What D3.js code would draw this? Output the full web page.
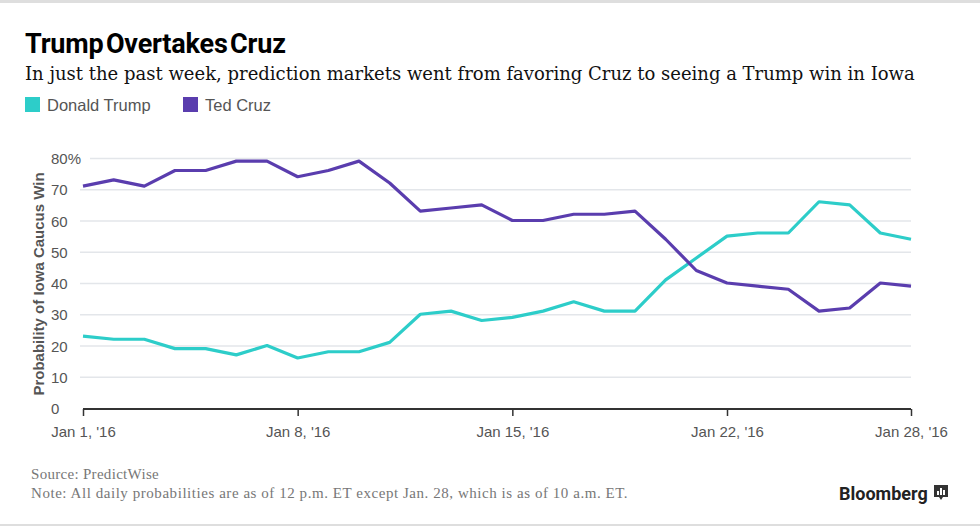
<!DOCTYPE html>
<html>
<head>
<meta charset="utf-8">
<script src="https://cdn.jsdelivr.net/npm/d3@7"></script>
<style>
  body { margin: 0; background: #fff; }
  text { font-family: "Liberation Sans", Arial, sans-serif; }
</style>
</head>
<body>
<script>
var svg; // svg canvas
var vizG; // plot group
var svgWidth = 980;
var svgHeight = 528;
var plot = {left: 83, right: 911, top: 158, bottom: 408};

// data
var days = d3.range(1, 29); // Jan 1 .. Jan 28, 2016
var trumpValues = [23, 22, 22, 19, 19, 17, 20, 16, 18, 18, 21, 30, 31, 28,
                   29, 31, 34, 31, 31, 41, 48, 55, 56, 56, 66, 65, 56, 54];
var cruzValues = [71, 73, 71, 76, 76, 79, 79, 74, 76, 79, 72, 63, 64, 65,
                  60, 60, 62, 62, 63, 54, 44, 40, 39, 38, 31, 32, 40, 39];
var seriesNames = ["Donald Trump", "Ted Cruz"];
var seriesColors = ["#2dcdc9", "#5a3dae"];
var yTicks = [0, 10, 20, 30, 40, 50, 60, 70, 80];
var xTickDays = [1, 8, 15, 22, 28];

var x = d3.scaleTime()
	.domain([new Date(2016, 0, 1), new Date(2016, 0, 28)])
	.range([plot.left, plot.right]);
var y = d3.scaleLinear()
	.domain([0, 80])
	.range([plot.bottom, plot.top]);

iniSvg(svgWidth, svgHeight);

// frame lines top/bottom
svg.append("rect").attr("x", 0).attr("y", 0).attr("width", svgWidth).attr("height", 3).attr("fill", "#dedede");
svg.append("rect").attr("x", 0).attr("y", 524).attr("width", svgWidth).attr("height", 2).attr("fill", "#dedede");

// title + subtitle
svg.append("text")
	.attr("x", 25).attr("y", 53)
	.style("font-family", "Roboto, 'Liberation Sans', sans-serif")
	.style("font-weight", "bold")
	.style("font-size", "27px")
	.style("letter-spacing", "-0.2px")
	.style("word-spacing", "-4px")
	.attr("fill", "#000")
	.text("Trump Overtakes Cruz");
svg.append("text")
	.attr("x", 25).attr("y", 80)
	.style("font-family", "'DejaVu Serif', serif")
	.style("font-size", "18px")
	.attr("fill", "#111")
	.text("In just the past week, prediction markets went from favoring Cruz to seeing a Trump win in Iowa");

// legend
var legend = svg.append("g").attr("transform", "translate(25,97)");
var legendItems = legend.selectAll("g")
	.data(seriesNames)
	.enter()
	.append("g")
	.attr("transform", function(d, i) { return "translate(" + (i * 158) + ",0)"; });
legendItems.append("rect")
	.attr("width", 15).attr("height", 15)
	.attr("fill", function(d, i) { return seriesColors[i]; });
legendItems.append("text")
	.attr("x", 22).attr("y", 13.5)
	.style("font-size", "16.5px")
	.attr("fill", "#555")
	.text(function(d) { return d; });

// grid lines
vizG.append("g")
	.selectAll("line")
	.data(yTicks.filter(function(d) { return d > 0; }))
	.enter()
	.append("line")
	.attr("x1", function(d) { return d == 80 ? 90 : 80; })
	.attr("x2", plot.right)
	.attr("y1", function(d) { return y(d) + 0.5; })
	.attr("y2", function(d) { return y(d) + 0.5; })
	.attr("stroke", "#e3e6ea")
	.attr("stroke-width", 1.3);

// y tick labels (left aligned)
vizG.append("g")
	.selectAll("text")
	.data(yTicks)
	.enter()
	.append("text")
	.attr("x", 51)
	.attr("y", function(d) { return y(d) + 6; })
	.style("font-size", "15px")
	.attr("fill", "#555")
	.text(function(d) { return d == 80 ? d + "%" : d; });

// y axis title
svg.append("text")
	.attr("transform", "translate(44," + ((plot.top + plot.bottom) / 2 + 1) + ") rotate(-90)")
	.attr("text-anchor", "middle")
	.style("font-size", "15px")
	.style("font-weight", "bold")
	.attr("fill", "#555")
	.text("Probability of Iowa Caucus Win");

// x axis
var xAxis = d3.axisBottom(x)
	.tickValues(xTickDays.map(function(d) { return new Date(2016, 0, d); }))
	.tickSize(7)
	.tickFormat(function(d) { return "Jan " + d.getDate() + ", '16"; });
var xAxisG = vizG.append("g")
	.attr("transform", "translate(0," + (plot.bottom + 1) + ")")
	.call(xAxis);
xAxisG.select(".domain").attr("stroke", "#333").attr("stroke-width", 2)
	.attr("d", "M" + plot.left + ",0H" + plot.right);
xAxisG.selectAll(".tick line").attr("stroke", "#333").attr("stroke-width", 1.5);
xAxisG.selectAll(".tick text")
	.attr("y", 17)
	.style("font-family", "'Liberation Sans', sans-serif")
	.style("font-size", "15px")
	.attr("fill", "#555");

// lines
var line = d3.line()
	.x(function(d, i) { return x(new Date(2016, 0, days[i])); })
	.y(function(d) { return y(d); });

vizG.append("g")
	.selectAll("path.dataLine")
	.data([trumpValues, cruzValues])
	.enter()
	.append("path")
	.attr("class", "dataLine")
	.attr("d", line)
	.attr("fill", "none")
	.attr("stroke", function(d, i) { return seriesColors[i]; })
	.attr("stroke-width", 3.2)
	.attr("stroke-linejoin", "round");

// footer
svg.append("text")
	.attr("x", 31).attr("y", 479)
	.style("font-family", "'Liberation Serif', serif")
	.style("font-size", "15px")
	.style("letter-spacing", "0.3px")
	.attr("fill", "#777")
	.text("Source: PredictWise");
svg.append("text")
	.attr("x", 31).attr("y", 498)
	.style("font-family", "'Liberation Serif', serif")
	.style("font-size", "15px")
	.style("letter-spacing", "0.55px")
	.attr("fill", "#777")
	.text("Note: All daily probabilities are as of 12 p.m. ET except Jan. 28, which is as of 10 a.m. ET.");

// bloomberg logo
svg.append("text")
	.attr("x", 839).attr("y", 500)
	.style("font-family", "Roboto, 'Liberation Sans', sans-serif")
	.style("font-weight", "bold")
	.style("font-size", "18px")
	.style("letter-spacing", "0px")
	.attr("fill", "#222")
	.text("Bloomberg");
var logo = svg.append("g").attr("transform", "translate(934,485)");
logo.append("path")
	.attr("d", "M0,0H14V12H9L7,15L5,12H0Z")
	.attr("fill", "#333");
logo.selectAll("rect.bar")
	.data([4, 7, 5])
	.enter()
	.append("rect")
	.attr("x", function(d, i) { return 3 + i * 3; })
	.attr("y", function(d) { return 10 - d; })
	.attr("width", 2)
	.attr("height", function(d) { return d; })
	.attr("fill", "#fff");

// svg init
function iniSvg(w, h) {
	svg = d3.select("body")
		.append("svg")
		.attr("id", "svgCanvas")
		.attr("width", w)
		.attr("height", h);

	vizG = svg.append("g")
		.attr("id", "vizG");

	return vizG;
}
</script>
</body>
</html>
